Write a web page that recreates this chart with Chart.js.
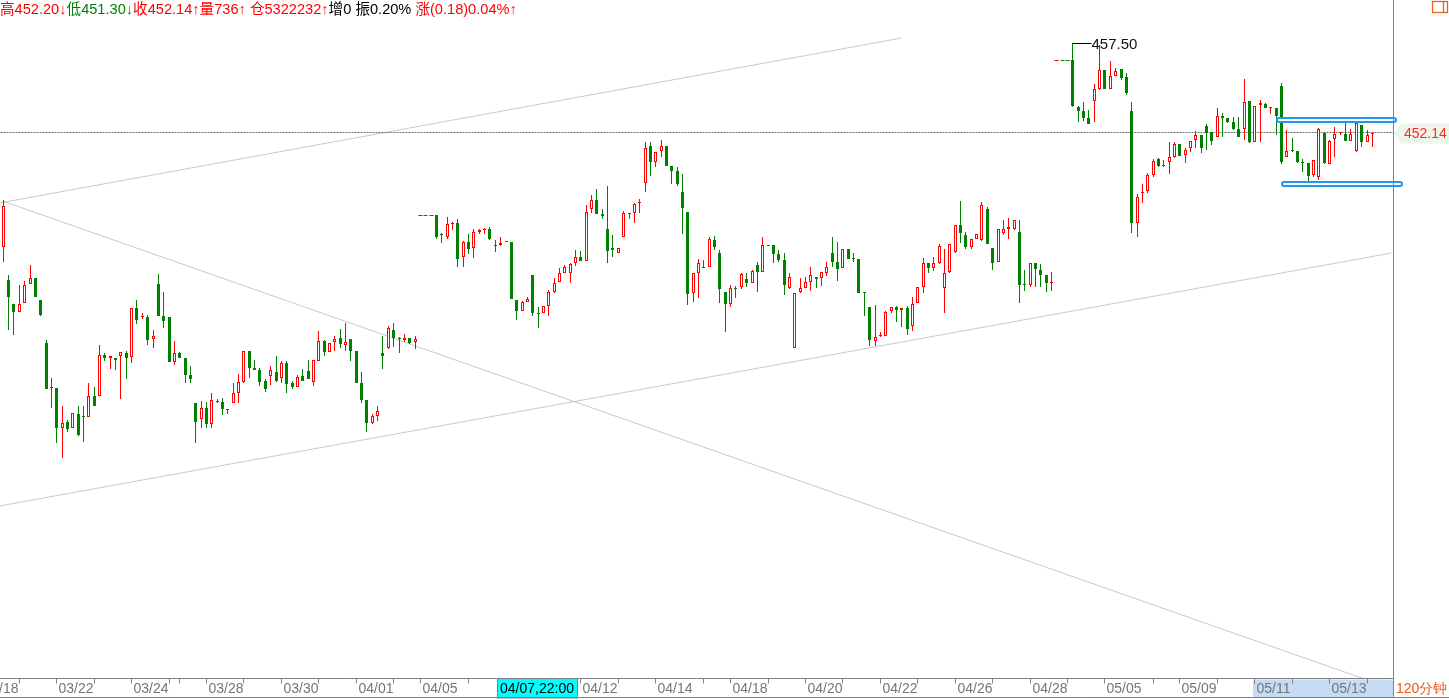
<!DOCTYPE html>
<html><head><meta charset="utf-8">
<script src="https://cdn.jsdelivr.net/npm/chart.js@4.4.1/dist/chart.umd.min.js"></script>
<style>
html,body{margin:0;padding:0;background:#fff;overflow:hidden;}
#wrap{position:relative;width:1449px;height:700px;}
#c{position:absolute;left:0;top:0;}
#hdr{position:absolute;left:0;top:1px;font:14.6px "Liberation Sans","Noto Sans CJK SC",sans-serif;white-space:pre;line-height:17px;}
.r{color:#f00}.g{color:#008000}.k{color:#000}
</style></head><body>
<div id="wrap"><canvas id="c" width="1449" height="700"></canvas><div id="hdr"></div></div>
<script>
// ---- data (120-minute candles, slot index = position on the time axis; null = holiday gap) ----
const opens = [445.30,443.30,441.86,441.40,441.90,443.04,443.40,442.10,439.50,436.80,436.80,434.44,434.76,434.40,435.26,435.12,435.10,436.34,436.36,438.80,
438.64,438.62,438.76,438.92,438.66,441.60,441.08,441.10,439.74,443.06,441.14,441.08,438.40,438.94,438.64,437.60,435.90,434.94,435.60,434.64,
436.02,435.96,435.54,435.94,436.50,437.20,439.04,438.04,437.90,437.24,437.56,437.76,437.40,438.30,437.14,436.90,437.54,437.84,437.16,438.46,
439.64,439.00,439.56,439.84,439.42,439.76,439.04,437.14,436.10,434.74,435.16,438.90,439.24,440.30,439.76,439.70,439.80,439.56,null,null,
null,447.20,446.02,445.90,446.64,446.70,444.66,445.56,445.20,446.20,446.29,446.34,445.32,445.38,445.56,445.56,442.10,441.46,442.00,443.60,
441.30,441.30,441.76,442.60,443.16,443.70,443.74,444.34,444.66,444.46,447.54,448.10,447.26,446.36,445.22,444.90,445.90,447.30,447.30,447.90,
449.10,451.34,450.40,451.06,451.34,450.14,449.84,448.58,447.38,442.50,443.74,444.06,444.10,445.70,444.90,442.56,441.84,442.80,442.86,443.36,
443.14,444.18,443.80,445.38,445.40,444.86,444.50,442.84,439.20,442.60,442.84,443.20,443.46,443.40,443.74,444.90,444.36,444.04,445.14,444.56,
444.56,442.52,441.66,439.64,439.94,439.96,441.46,441.66,441.52,441.60,440.56,441.90,442.90,444.30,444.04,444.34,442.80,443.80,445.00,446.60,
446.00,445.26,445.74,445.70,447.56,445.20,444.36,446.14,446.36,446.36,446.16,443.04,443.00,444.30,443.90,443.60,443.10,null,null,null,
456.50,453.70,453.44,453.00,454.06,454.76,455.90,454.76,455.56,455.96,455.50,453.44,446.74,448.54,448.64,449.60,450.54,450.14,450.40,450.70,
451.46,450.80,451.20,451.70,452.00,452.54,452.20,451.86,453.14,453.00,452.80,452.36,452.36,454.04,451.60,453.80,453.84,453.64,453.64,454.96,
450.70,451.04,451.04,450.36,450.30,449.60,449.50,452.14,450.24,451.74,452.10,452.06,451.64,451.06,452.60,451.60,452.06];
const highs = [448.10,443.60,441.86,443.00,443.26,444.20,443.40,442.10,439.70,437.40,436.80,435.74,434.90,435.30,435.74,435.74,437.14,436.90,439.40,438.94,
438.74,438.62,438.96,439.06,441.60,442.10,441.30,441.20,440.30,443.66,442.60,441.08,439.64,439.00,438.64,438.14,435.90,436.04,436.00,436.50,
436.14,436.22,435.54,437.10,437.64,439.04,439.04,438.50,438.00,437.34,438.14,438.74,438.44,438.44,437.26,437.60,437.96,438.50,438.50,440.24,
439.70,439.50,439.94,440.36,440.74,439.76,439.04,437.78,436.10,435.26,435.74,439.94,440.54,440.74,439.90,440.06,439.80,439.94,null,null,
null,447.20,446.10,447.06,446.76,446.94,445.66,446.06,446.34,446.36,446.40,446.46,445.70,445.90,445.56,445.56,442.10,442.04,442.26,443.60,
441.66,441.74,442.70,443.40,444.00,444.20,444.34,445.10,445.06,447.80,448.40,448.76,447.56,448.96,446.00,445.20,447.44,447.30,447.94,448.14,
451.56,451.56,451.00,451.70,451.34,450.14,450.06,449.66,447.38,443.74,444.54,444.50,445.86,445.94,445.10,442.56,443.00,442.94,443.70,443.70,
443.90,444.38,445.86,445.38,445.40,445.10,444.90,443.70,442.50,443.44,443.50,444.06,443.46,443.76,444.36,445.86,445.56,445.14,445.14,444.90,
444.56,442.52,441.66,441.80,440.16,441.44,441.66,441.74,441.60,441.74,442.26,442.86,444.60,444.30,444.66,445.46,445.14,445.44,446.58,448.04,
446.16,445.74,446.04,447.96,447.70,445.20,446.34,446.90,447.00,446.90,446.90,443.90,444.30,444.30,444.26,443.60,443.80,null,null,null,
457.50,453.74,454.00,453.50,455.06,457.40,455.90,456.44,456.04,455.96,455.70,453.96,448.44,449.06,449.70,450.54,450.60,450.50,451.60,451.60,
451.46,451.20,451.64,452.24,452.00,452.66,452.20,453.60,453.34,453.00,453.10,453.06,455.36,454.04,453.74,454.10,453.94,453.70,453.64,455.10,
452.30,451.80,451.04,450.54,450.30,450.50,452.40,452.20,451.70,452.46,452.20,452.70,452.34,452.70,452.60,452.30,452.20];
const lows = [444.40,440.30,440.00,441.40,441.90,443.04,442.30,441.16,436.76,435.60,433.50,432.60,434.20,434.40,433.94,433.60,435.10,435.76,436.36,438.46,
437.96,437.90,436.16,437.36,438.34,440.66,440.94,439.40,439.24,441.14,440.44,438.40,438.20,438.60,437.14,437.14,433.54,434.44,434.40,434.40,
435.90,435.18,435.24,435.94,435.90,437.14,437.44,437.92,436.96,436.60,437.00,437.16,437.14,436.50,436.76,436.90,437.26,437.36,436.96,438.46,
438.76,439.00,439.06,439.24,439.06,438.46,437.14,435.94,434.20,434.66,434.86,437.94,439.14,439.30,438.94,439.56,439.44,439.14,null,null,
null,445.76,445.54,445.76,446.30,444.10,444.10,444.86,444.64,446.06,446.06,445.70,445.00,445.36,445.56,442.14,440.90,441.46,442.00,441.16,
440.40,441.30,441.16,442.54,443.16,443.70,443.14,444.14,444.46,444.46,447.30,447.26,446.94,444.34,444.70,444.90,445.90,446.94,446.74,447.30,
448.60,449.54,450.10,450.70,450.16,449.06,448.94,446.06,441.80,442.00,442.24,444.04,444.10,445.10,441.94,440.16,441.66,442.24,442.78,442.90,
443.10,442.60,443.80,445.36,444.34,444.36,442.40,442.74,439.20,442.54,442.84,442.66,442.80,442.96,443.56,444.10,443.26,444.04,444.54,444.40,
442.54,441.16,439.36,439.36,439.90,439.96,441.34,440.80,440.50,440.00,440.26,441.90,442.54,443.74,443.86,444.24,441.34,443.70,444.90,445.50,
445.16,445.14,445.74,445.64,445.44,443.90,444.36,446.00,445.76,446.30,441.94,442.64,442.90,442.90,442.90,442.60,442.66,null,null,null,
453.70,452.80,452.86,452.66,452.80,454.70,454.76,454.76,455.56,455.30,454.40,446.14,445.90,447.90,448.54,449.50,450.10,450.10,449.64,450.60,
450.76,450.30,451.00,451.20,450.90,451.10,451.40,451.86,451.86,452.70,452.30,451.90,451.70,451.54,451.60,451.60,453.64,453.26,452.00,450.26,
450.70,451.00,450.34,449.80,449.00,449.50,449.30,450.24,450.24,450.66,452.00,451.66,451.64,451.00,451.30,451.60,451.30];
const closes = [447.74,442.30,441.40,441.86,443.00,443.40,442.30,441.20,436.76,436.80,434.44,434.70,434.38,435.30,434.00,435.10,436.34,435.76,438.80,438.64,
438.74,438.52,438.96,438.64,441.60,440.90,441.08,439.70,439.94,441.14,440.86,438.40,438.90,438.64,437.60,437.36,434.80,435.60,434.64,436.10,
436.00,435.58,435.52,436.50,437.16,439.04,438.04,437.92,437.20,436.78,437.90,437.26,438.30,437.06,436.90,437.46,437.26,437.36,438.50,439.64,
438.98,439.50,439.76,439.46,439.58,439.06,437.14,436.10,434.74,435.16,435.44,438.76,440.40,439.84,439.74,439.80,439.54,439.74,null,null,
null,445.90,445.98,446.66,446.66,444.58,445.56,445.16,446.20,446.30,446.30,445.74,445.34,445.50,445.56,442.14,441.46,441.96,442.16,441.34,
441.28,441.74,442.56,443.10,443.70,444.10,444.26,444.66,444.46,447.40,448.10,447.26,447.16,445.06,445.12,445.20,447.32,447.28,447.86,448.00,
451.20,450.40,451.00,451.34,450.16,449.86,449.06,447.64,442.46,443.70,444.30,444.04,445.76,445.30,442.74,441.84,442.80,442.78,443.66,443.14,
443.86,443.80,445.40,445.36,444.86,444.50,443.00,443.46,442.50,442.80,443.16,443.60,443.36,443.76,444.06,444.40,443.96,445.14,444.54,444.54,
442.54,442.50,439.70,439.90,439.94,441.40,441.66,441.50,441.60,440.34,441.84,442.86,444.30,444.04,444.30,445.34,443.70,445.44,446.58,446.10,
445.26,445.74,446.04,447.80,445.44,444.34,446.34,446.34,446.46,446.90,443.00,443.02,444.30,443.94,443.60,443.14,443.10,null,null,null,
453.74,453.44,453.00,452.66,454.74,455.90,454.76,455.54,455.86,455.44,454.50,446.74,448.30,448.54,449.60,450.44,450.14,450.14,450.66,451.44,
450.76,451.10,451.64,452.00,451.20,452.14,451.66,453.14,453.04,452.80,452.36,451.90,453.96,451.60,453.74,453.90,453.64,453.64,453.16,450.40,
451.04,451.02,450.40,450.34,449.54,450.50,452.34,450.34,451.64,452.06,452.10,451.66,452.06,452.70,451.60,452.00,452.14];

// time-axis ticks (slot index) and their date labels ('' = unlabeled day boundary)
const tickIdx = [-4,3,10,17,24,31,33,38,45,52,59,66,73,78,87,108,115,122,131,136,143,150,157,164,171,178,185,192,199,206,215,220,227,234,241,248,255];
const tickLbl = ['03/18','','03/22','','03/24','','','03/28','','03/30','','04/01','','04/05','','04/12','','04/14','','04/18','','04/20','','04/22','','04/26','','04/28','','05/05','','05/09','','05/11','','05/13',''];

// hand-drawn trend lines: [slotStart, priceStart, slotEnd, priceEnd]
const trendUpper = [-0.62, 447.92, 168.04, 457.82];
const trendDown  = [-0.06, 448.04, 259.86, 418.75];
const trendLower = [-0.62, 429.74, 259.49, 444.92];

// annotation boxes: [slotFrom, slotTo, priceLow, priceHigh]
const boxA = [237.98, 260.6, 452.70, 453.10];
const boxB = [238.86, 261.6, 448.88, 449.26];
const selRange = [233.6, 259.86];    // highlighted span on the time axis
const cursorSlot = 99.7, cursorText = '04/07,22:00';
const periodText = '120分钟';
const volText = '736', oiText = '5322232', incText = '0', ampText = '0.20%', chgText = '(0.18)0.04%';

// ---- view window ----
const X_MIN = -0.617, X_MAX = 259.86, Y_MIN = 419.42, Y_MAX = 460.10;
const RED = '#ff0000', GREEN = '#008000';

// linear scale that snaps its pixels to the device grid (crisp 1px candles)
class SnapLinear extends Chart.LinearScale {
  getPixelForValue(v) {
    const p = super.getPixelForValue(v);
    const s = this.options.snap;
    if (s === 'half') return Math.floor(p) + 0.5;
    if (s === 'int') return Math.round(p);
    return p;
  }
}
SnapLinear.id = 'snapLinear';
SnapLinear.defaults = Chart.LinearScale.defaults;
Chart.register(SnapLinear);

const bodyData = [], wickData = [];
for (let i = 0; i < opens.length; i++) {
  if (opens[i] == null) continue;
  bodyData.push({x: i, y: [opens[i], closes[i]]});
  wickData.push({x: i, y: [lows[i], highs[i]]});
}
const isUp = i => closes[i] >= opens[i];
const isDoji = i => Math.abs(closes[i] - opens[i]) < 0.03;
const lastI = closes.length - 1;

// header
const hdrSegs = [
  ['高' + highs[lastI].toFixed(2) + '↓', 'r'], ['低' + lows[lastI].toFixed(2) + '↓', 'g'],
  ['收' + closes[lastI].toFixed(2) + '↑', 'r'], ['量' + volText + '↑ ', 'r'], ['仓' + oiText + '↑', 'r'],
  ['增' + incText + ' ', 'k'], ['振' + ampText + ' ', 'k'], ['涨' + chgText + '↑', 'r']];
document.getElementById('hdr').innerHTML = hdrSegs.map(s => '<span class="' + s[1] + '">' + s[0] + '</span>').join('');

const lineDs = (arr, color, order) => ({type: 'line', data: [{x: arr[0], y: arr[1]}, {x: arr[2], y: arr[3]}],
  borderColor: color, borderWidth: 1, pointRadius: 0, order, tension: 0, yAxisID: 'yl'});

const deco = {
  id: 'deco',
  beforeDraw(chart) {
    const c = chart.ctx; c.save(); c.fillStyle = '#fff'; c.fillRect(0, 0, chart.width, chart.height); c.restore();
  },
  beforeDatasetsDraw(chart) {
    const {ctx: c, scales: {x, yh}} = chart;
    // holiday gap markers at the level of the next open
    c.save(); c.lineWidth = 1;
    let i = 0;
    while (i < opens.length) {
      if (opens[i] == null) {
        let s = i; while (i < opens.length && opens[i] == null) i++;
        const py = yh.getPixelForValue(opens[i]);
        for (let k = s; k < i; k++) {
          const px = x.getPixelForValue(k);
          c.strokeStyle = k === s ? RED : GREEN;
          c.beginPath(); c.moveTo(px - 2, py); c.lineTo(px + 2, py); c.stroke();
        }
      } else i++;
    }
    c.restore();
  },
  afterDatasetsDraw(chart) {
    const {ctx: c, scales: {x, yl, yh}} = chart;
    c.save();
    // blue annotation boxes
    for (const b of [boxA, boxB]) {
      const x1 = Math.round(x.getPixelForValue(b[0])), x2 = Math.round(x.getPixelForValue(b[1]));
      const y1 = Math.round(yl.getPixelForValue(b[3])), y2 = Math.round(yl.getPixelForValue(b[2]));
      c.beginPath(); c.roundRect(x1 + 1, y1 + 1, x2 - x1 - 2, y2 - y1 - 2, 3);
      c.fillStyle = '#fff'; c.fill();
      c.lineWidth = 2; c.strokeStyle = '#2196f3'; c.stroke();
    }
    // max-high label
    let mi = 0; highs.forEach((h, i) => { if (h != null && h > highs[mi]) mi = i; });
    const hx = x.getPixelForValue(mi), hy = yh.getPixelForValue(highs[mi]);
    c.strokeStyle = '#000'; c.lineWidth = 1;
    c.beginPath(); c.moveTo(hx, hy); c.lineTo(hx + 19, hy); c.stroke();
    c.font = '15px "Liberation Sans", sans-serif'; c.fillStyle = '#111'; c.textBaseline = 'middle';
    c.fillText(highs[mi].toFixed(2), hx + 19, hy + 1);
    c.restore();
  },
  afterDraw(chart) {
    const {ctx: c, scales: {x, yl}, chartArea: a} = chart;
    const W = chart.width;
    c.save();
    const axY = a.bottom + 0.5, botY = 697.5;
    // selection highlight on time axis
    const s1 = Math.round(x.getPixelForValue(selRange[0])), s2 = a.right;
    c.fillStyle = '#c5daf3'; c.beginPath(); c.roundRect(s1, axY + 1, s2 - s1, botY - axY - 1, 3); c.fill();
    // axis lines
    c.strokeStyle = '#808080'; c.lineWidth = 1;
    c.beginPath(); c.moveTo(0, axY); c.lineTo(a.right, axY); c.stroke();
    c.beginPath(); c.moveTo(0, botY); c.lineTo(W, botY); c.stroke();
    c.beginPath(); c.moveTo(a.right + 0.5, 0); c.lineTo(a.right + 0.5, botY); c.stroke();
    // ticks + labels
    c.font = '14px "Liberation Sans", sans-serif'; c.textBaseline = 'middle'; c.textAlign = 'left';
    tickIdx.forEach((t, k) => {
      const px = x.getPixelForValue(t);
      c.strokeStyle = '#808080';
      c.beginPath(); c.moveTo(px, axY); c.lineTo(px, axY + 5); c.stroke();
      if (tickLbl[k]) { c.fillStyle = '#767676'; c.fillText(tickLbl[k], px + 2, 689); }
    });
    // cursor time label
    const cw = Math.round(c.measureText(cursorText).width + 6), cx = Math.round(x.getPixelForValue(cursorSlot) - cw / 2);
    c.fillStyle = '#00ffff'; c.fillRect(cx, axY + 1, cw, botY - axY - 1.5);
    c.strokeStyle = '#808080'; c.strokeRect(cx + 0.5, axY + 0.5, cw, botY - axY);
    c.fillStyle = '#000'; c.fillText(cursorText, cx + 3, 689);
    // period label
    c.fillStyle = '#e8561a'; c.fillText(periodText, a.right + 3, 689);
    // last price label
    const ly = Math.round(yl.getPixelForValue(closes[lastI])) + 0.5;
    c.fillStyle = '#eef6ec';
    c.beginPath(); c.moveTo(a.right + 1, ly); c.lineTo(a.right + 8, ly - 10); c.lineTo(W, ly - 10); c.lineTo(W, ly + 10); c.lineTo(a.right + 8, ly + 10); c.closePath(); c.fill();
    c.fillStyle = '#ff2a1a'; c.fillText(closes[lastI].toFixed(2), a.right + 11, ly + 1);
    // window icon
    c.strokeStyle = '#e8641e'; c.lineWidth = 1.3;
    c.strokeRect(1432.5, 1.5, 15, 11);
    c.beginPath(); c.moveTo(1443.5, 1.5); c.lineTo(1443.5, 12.5); c.stroke();
    c.restore();
  }
};

new Chart(document.getElementById('c'), {
  type: 'bar',
  data: {
    datasets: [
      {type: 'bar', data: bodyData, order: 0, grouped: false, barThickness: 3, minBarLength: 1, inflateAmount: 0, borderSkipped: false,
        backgroundColor: ctx => { const i = ctx.raw.x; return isUp(i) ? (isDoji(i) ? RED : '#fff') : GREEN; },
        borderColor: ctx => isUp(ctx.raw.x) ? RED : GREEN,
        borderWidth: ctx => { const i = ctx.raw.x; return isUp(i) && !isDoji(i) ? 1 : 0; }},
      {type: 'bar', data: wickData, order: 1, grouped: false, barThickness: 1, minBarLength: 1, inflateAmount: 0, borderSkipped: false, borderWidth: 0,
        backgroundColor: ctx => isUp(ctx.raw.x) ? RED : GREEN},
      {type: 'line', data: [{x: X_MIN, y: closes[lastI]}, {x: X_MAX, y: closes[lastI]}], borderColor: '#707070', borderWidth: 1,
        borderDash: [2, 1], pointRadius: 0, order: 2, yAxisID: 'yh'},
      lineDs(trendUpper, '#c8c8c8', 3),
      lineDs(trendDown, '#c8c8c8', 3),
      lineDs(trendLower, '#c8c8c8', 3)
    ]
  },
  options: {
    responsive: false, animation: false, devicePixelRatio: 1, events: [],
    layout: {padding: {left: 0, top: 0, right: 56, bottom: 22}},
    plugins: {legend: {display: false}, tooltip: {enabled: false}, title: {display: false}},
    scales: {
      x: {type: 'snapLinear', snap: 'half', min: X_MIN, max: X_MAX, offset: false, display: false},
      y: {type: 'snapLinear', snap: 'int', min: Y_MIN, max: Y_MAX, display: false},
      yh: {type: 'snapLinear', snap: 'half', min: Y_MIN, max: Y_MAX, display: false},
      yl: {type: 'linear', min: Y_MIN, max: Y_MAX, display: false}
    }
  },
  plugins: [deco]
});
</script>
</body></html>
